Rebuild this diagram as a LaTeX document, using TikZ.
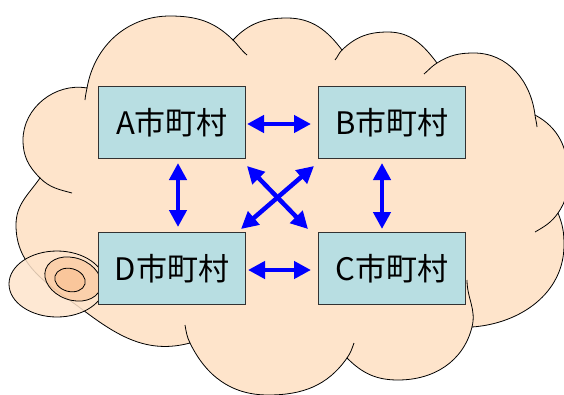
\documentclass[tikz,border=0pt]{standalone}
\usepackage{fontspec}
\setmainfont{Noto Sans CJK JP}
\usetikzlibrary{positioning,arrows.meta}
\definecolor{cloudfill}{RGB}{254,228,203}
\definecolor{tailfill}{RGB}{250,190,140}
\definecolor{townfill}{RGB}{184,222,226}
\definecolor{townline}{RGB}{50,50,50}

\begin{document}
\begin{tikzpicture}[x=1pt,y=1pt,
    town/.style={draw=townline, fill=townfill, line width=1pt, minimum width=147pt,
        minimum height=72pt, inner sep=0pt, font=\fontsize{31}{32}\selectfont},
    link/.style={blue, line width=4.5pt,
        {Triangle[length=17pt,width=17pt]}-{Triangle[length=17pt,width=17pt]}},
    edge/.style={line width=0.8pt}]
    \useasboundingbox (0,0) rectangle (564,-394);

    % Cloud
    \draw[edge, fill=cloudfill]
        (87,-88) to[out=80,in=180] (170,-16) to[out=0,in=135] (233,-40)
        to[out=47,in=180] (287,-18) to[out=0,in=127] (342,-50)
        to[out=44,in=180] (388,-32) to[out=0,in=127] (437,-63)
        to[out=32,in=180] (474,-53) to[out=0,in=97] (535,-115)
        to[out=-28,in=90] (568,-175) to[out=-90,in=55] (558,-213)
        to[out=-68,in=90] (564,-245) to[out=-90,in=4] (472,-327)
        to[out=-104,in=0] (398,-380) to[out=180,in=-45] (347,-358)
        to[out=-125,in=0] (268,-395) to[out=180,in=-64] (190,-343)
        to[out=195,in=-37] (83,-310) to[out=143,in=-90] (16,-225)
        to[out=90,in=-125] (40,-178)
        to[out=135,in=-90] (23,-140) to[out=90,in=170] (87,-88) -- cycle;
    % inner ends of the bumps
    \draw[edge] (87,-88) to[out=260,in=85] (85,-100);
    \draw[edge] (233,-40) to[out=-45,in=140] (247,-55);
    \draw[edge] (342,-50) to[out=224,in=50] (335,-60);
    \draw[edge] (437,-63) to[out=212,in=40] (424,-74);
    \draw[edge] (535,-115) to[out=-83,in=95] (537,-127);
    \draw[edge] (558,-213) to[out=-125,in=30] (535,-232);
    \draw[edge] (472,-327) to[out=76,in=-90] (467,-280);
    \draw[edge] (347,-358) to[out=55,in=-110] (354,-343);
    \draw[edge] (190,-343) to[out=116,in=-80] (185,-325);
    \draw[edge] (40,-178) to[out=-45,in=165] (72,-193);

    % Tail
    \draw[edge, fill=cloudfill, fill opacity=0.85] (57,-284) ellipse[x radius=48, y radius=33];
    \draw[edge, fill=tailfill, fill opacity=0.5, rotate around={-20:(73,-279)}]
        (73,-279) ellipse[x radius=29, y radius=21];
    \draw[edge, fill=tailfill, fill opacity=0.5, rotate around={-15:(70,-280)}]
        (70,-280) ellipse[x radius=15.5, y radius=11.5];

    % Nodes
    \node[town] (A) at (172,-122.5) {A市町村};
    \node[town, right=72pt of A] (B) {B市町村};
    \node[town, below=73pt of A] (D) {D市町村};
    \node[town, right=72pt of D] (C) {C市町村};

    % Arrows
    \draw[link] ([shift={(1pt,-1.5pt)}]A.east) -- ([shift={(-7pt,-1.5pt)}]B.west);
    \draw[link] ([shift={(2pt,-1.5pt)}]D.east) -- ([shift={(-7pt,-1.5pt)}]C.west);
    \draw[link] ([shift={(6pt,-4pt)}]A.south) -- ([shift={(6pt,5pt)}]D.north);
    \draw[link] ([shift={(-10pt,-4pt)}]B.south) -- ([shift={(-10pt,3pt)}]C.north);
    \draw[link] ([shift={(1pt,-7pt)}]A.south east) -- ([shift={(-10pt,3pt)}]C.north west);
    \draw[link] ([shift={(-4pt,-7pt)}]B.south west) -- ([shift={(-5pt,3pt)}]D.north east);
\end{tikzpicture}
\end{document}
